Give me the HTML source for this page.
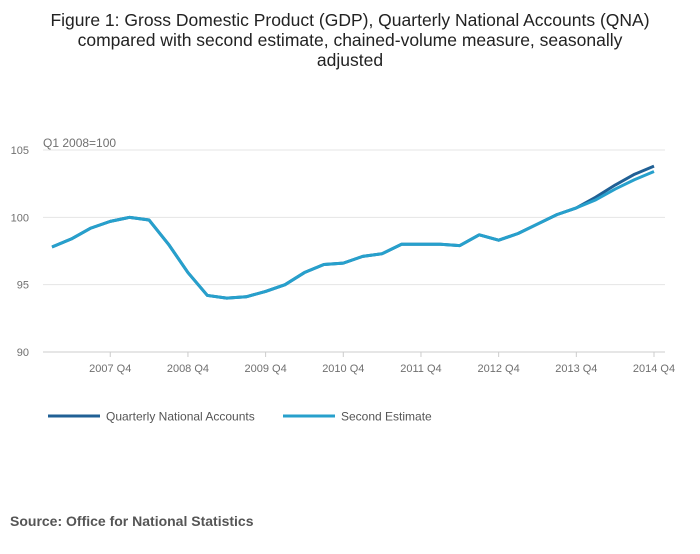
<!DOCTYPE html>
<html><head><meta charset="utf-8"><style>
body{margin:0;background:#fff;font-family:"Liberation Sans",sans-serif;}
svg text{font-family:"Liberation Sans",sans-serif;}
</style></head><body>
<svg width="700" height="549" viewBox="0 0 700 549">
<text x="350" y="26" text-anchor="middle" font-size="17.5" fill="#222">Figure 1: Gross Domestic Product (GDP), Quarterly National Accounts (QNA)</text>
<text x="350" y="46" text-anchor="middle" font-size="17.5" fill="#222">compared with second estimate, chained-volume measure, seasonally</text>
<text x="350" y="66" text-anchor="middle" font-size="17.5" fill="#222">adjusted</text>
<text x="43" y="147" font-size="12" fill="#707070">Q1 2008=100</text>
<g id="grid"></g><g id="ticks"></g><g id="lines"></g>
<g>
<line x1="48" y1="416" x2="100" y2="416" stroke="#206095" stroke-width="3"/>
<text x="106" y="420.5" font-size="12" fill="#555">Quarterly National Accounts</text>
<line x1="283" y1="416" x2="335" y2="416" stroke="#27a0cc" stroke-width="3"/>
<text x="341" y="420.5" font-size="12" fill="#555">Second Estimate</text>
</g>
<text x="10" y="526" font-size="14" font-weight="bold" fill="#555">Source: Office for National Statistics</text>
</svg>
<script>
const quarters=["2007 Q1","2007 Q2","2007 Q3","2007 Q4","2008 Q1","2008 Q2","2008 Q3","2008 Q4","2009 Q1","2009 Q2","2009 Q3","2009 Q4","2010 Q1","2010 Q2","2010 Q3","2010 Q4","2011 Q1","2011 Q2","2011 Q3","2011 Q4","2012 Q1","2012 Q2","2012 Q3","2012 Q4","2013 Q1","2013 Q2","2013 Q3","2013 Q4","2014 Q1","2014 Q2","2014 Q3","2014 Q4"];
const secondEstimate=[97.8,98.4,99.2,99.7,100.0,99.8,98.0,95.9,94.2,94.0,94.1,94.5,95.0,95.9,96.5,96.6,97.1,97.3,98.0,98.0,98.0,97.9,98.7,98.3,98.8,99.5,100.2,100.7,101.3,102.1,102.8,103.4];
const qna=[97.8,98.4,99.2,99.7,100.0,99.8,98.0,95.9,94.2,94.0,94.1,94.5,95.0,95.9,96.5,96.6,97.1,97.3,98.0,98.0,98.0,97.9,98.7,98.3,98.8,99.5,100.2,100.7,101.5,102.4,103.2,103.8];
const yTicks=[90,95,100,105];
const xTickLabels=["2007 Q4","2008 Q4","2009 Q4","2010 Q4","2011 Q4","2012 Q4","2013 Q4","2014 Q4"];
const NS="http://www.w3.org/2000/svg";
const x=i=>52+i*(654-52)/31;
const y=v=>352-(v-90)*(352-150)/15;
const grid=document.getElementById('grid'),ticks=document.getElementById('ticks'),lines=document.getElementById('lines');
yTicks.forEach(t=>{
 const l=document.createElementNS(NS,'line');
 l.setAttribute('x1',43);l.setAttribute('x2',665);l.setAttribute('y1',y(t));l.setAttribute('y2',y(t));
 l.setAttribute('stroke',t===90?'#ccc':'#e4e4e4');l.setAttribute('stroke-width',1);
 
 
 grid.appendChild(l);
 const tx=document.createElementNS(NS,'text');
 tx.setAttribute('x',29);tx.setAttribute('y',y(t)+4);tx.setAttribute('text-anchor','end');
 tx.setAttribute('font-size',11);tx.setAttribute('fill','#707070');tx.textContent=t;
 
 
 ticks.appendChild(tx);
});
xTickLabels.forEach(lab=>{
 const i=quarters.indexOf(lab);
 const tk=document.createElementNS(NS,'line');
 tk.setAttribute('x1',x(i));tk.setAttribute('x2',x(i));tk.setAttribute('y1',352);tk.setAttribute('y2',357);
 tk.setAttribute('stroke','#ccc');
 
 
 ticks.appendChild(tk);
 const tx=document.createElementNS(NS,'text');
 tx.setAttribute('x',x(i));tx.setAttribute('y',372);tx.setAttribute('text-anchor','middle');
 tx.setAttribute('font-size',11);tx.setAttribute('fill','#707070');tx.textContent=lab;
 
 
 ticks.appendChild(tx);
});
function drawLine(vals,color,name){
 const p=document.createElementNS(NS,'polyline');
 p.setAttribute('points',vals.map((v,i)=>x(i)+','+y(v)).join(' '));
 p.setAttribute('fill','none');p.setAttribute('stroke',color);p.setAttribute('stroke-width',3);
 p.setAttribute('stroke-linejoin','round');
 
 
 lines.appendChild(p);
}
drawLine(qna,'#206095','series-qna');
drawLine(secondEstimate,'#27a0cc','series-second-estimate');
</script>
</body></html>
